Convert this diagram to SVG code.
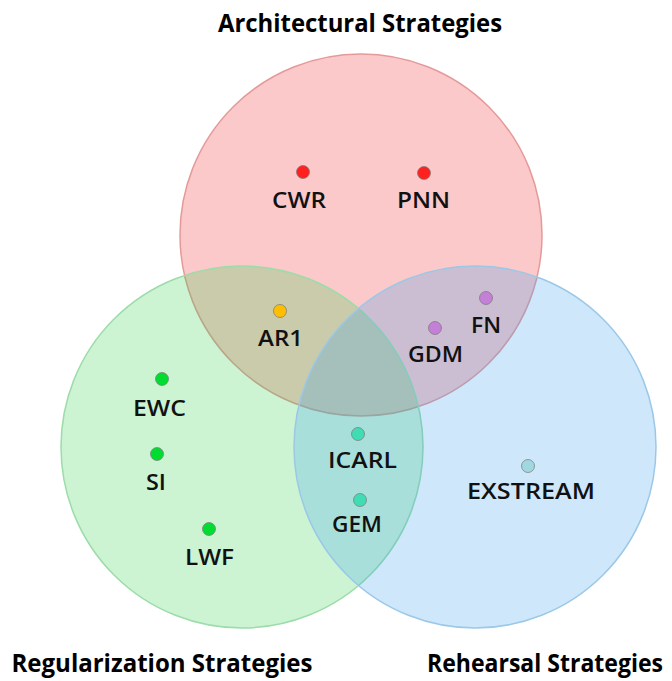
<svg xmlns="http://www.w3.org/2000/svg" width="672" height="681" viewBox="0 0 672 681">
<style>
.title{font-family:"Open Sans","Liberation Sans",sans-serif;font-weight:700;font-size:25px;fill:#000;text-anchor:middle}
.lbl{font-family:"Open Sans","Liberation Sans",sans-serif;font-weight:600;font-size:22px;fill:#111;text-anchor:middle}
.dot{stroke:#777;stroke-width:1;stroke-opacity:0.7}
</style>
<rect width="672" height="681" fill="#fff"/>
<g id="sets">
<circle id="architectural" cx="361" cy="235" r="181" fill="rgb(240,40,40)" fill-opacity="0.25" stroke="#e59a9a" stroke-width="1.5"/>
<circle id="regularization" cx="242" cy="447" r="181" fill="rgb(40,210,70)" fill-opacity="0.24" stroke="#9cdcaa" stroke-width="1.5"/>
<circle id="rehearsal" cx="475" cy="447" r="181" fill="rgb(60,160,240)" fill-opacity="0.25" stroke="#9cc8e8" stroke-width="1.5"/>
</g>
<g id="titles">
<text class="title" x="360" y="32" textLength="284" lengthAdjust="spacingAndGlyphs">Architectural Strategies</text>
<text class="title" x="162" y="672" textLength="301" lengthAdjust="spacingAndGlyphs">Regularization Strategies</text>
<text class="title" x="545" y="672" textLength="236" lengthAdjust="spacingAndGlyphs">Rehearsal Strategies</text>
</g>
<g id="CWR"><circle class="dot" cx="303" cy="172" r="6.5" fill="#ff2020"/><text class="lbl" x="299" y="208" textLength="54" lengthAdjust="spacingAndGlyphs">CWR</text></g>
<g id="PNN"><circle class="dot" cx="424" cy="173" r="6.5" fill="#ff2020"/><text class="lbl" x="423.5" y="208" textLength="53" lengthAdjust="spacingAndGlyphs">PNN</text></g>
<g id="AR1"><circle class="dot" cx="280" cy="311" r="6.5" fill="#ffbf00"/><text class="lbl" x="280.5" y="346" textLength="45" lengthAdjust="spacingAndGlyphs">AR1</text></g>
<g id="FN"><circle class="dot" cx="486" cy="298" r="6.5" fill="#c47fd6"/><text class="lbl" x="486" y="333" textLength="30" lengthAdjust="spacingAndGlyphs">FN</text></g>
<g id="GDM"><circle class="dot" cx="435" cy="328" r="6.5" fill="#c47fd6"/><text class="lbl" x="435.5" y="362" textLength="55" lengthAdjust="spacingAndGlyphs">GDM</text></g>
<g id="EWC"><circle class="dot" cx="162" cy="379" r="6.5" fill="#00dd30"/><text class="lbl" x="159.5" y="416" textLength="53" lengthAdjust="spacingAndGlyphs">EWC</text></g>
<g id="SI"><circle class="dot" cx="157" cy="454" r="6.5" fill="#00dd30"/><text class="lbl" x="156" y="490" textLength="20" lengthAdjust="spacingAndGlyphs">SI</text></g>
<g id="LWF"><circle class="dot" cx="209" cy="529" r="6.5" fill="#00dd30"/><text class="lbl" x="209.5" y="565" textLength="49" lengthAdjust="spacingAndGlyphs">LWF</text></g>
<g id="ICARL"><circle class="dot" cx="358" cy="434" r="6.5" fill="#40dcb4"/><text class="lbl" x="362.5" y="468" textLength="69" lengthAdjust="spacingAndGlyphs">ICARL</text></g>
<g id="GEM"><circle class="dot" cx="360" cy="500" r="6.5" fill="#40dcb4"/><text class="lbl" x="357" y="532" textLength="50" lengthAdjust="spacingAndGlyphs">GEM</text></g>
<g id="EXSTREAM"><circle class="dot" cx="528" cy="466" r="6.5" fill="#a0d8e0"/><text class="lbl" x="531" y="499" textLength="128" lengthAdjust="spacingAndGlyphs">EXSTREAM</text></g>
<g id="connectors"/>
</svg>
